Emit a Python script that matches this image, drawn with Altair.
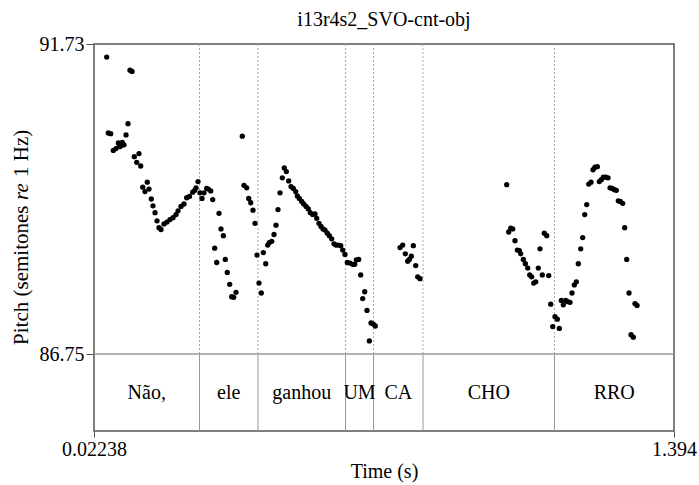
import altair as alt
import pandas as pd

T_START = 0.02238
T_END = 1.394
P_TOP = 91.73
P_BOTTOM = 86.75

# Pitch samples (time in s, pitch in semitones re 1 Hz), grouped by word
nao_t = [0.0524, 0.0562, 0.0619, 0.0680, 0.0744, 0.0799, 0.0822, 0.0855, 0.0893, 0.0933,
         0.0981, 0.1028, 0.1075, 0.1123, 0.1177, 0.1234, 0.1288, 0.1328, 0.1376, 0.1430,
         0.1484, 0.1525, 0.1579, 0.1619, 0.1667, 0.1714, 0.1761, 0.1808, 0.1879, 0.1950,
         0.2021, 0.2092, 0.2163, 0.2211, 0.2281, 0.2352, 0.2416, 0.2482, 0.2558, 0.2605,
         0.2636, 0.2684]
nao_p = [91.52, 90.30, 90.29, 90.02, 90.05, 90.14, 90.08, 90.09, 90.15, 90.11,
         90.27, 90.45, 91.31, 91.29, 89.92, 89.83, 89.97, 89.77, 89.43, 89.36,
         89.51, 89.40, 89.24, 89.13, 89.02, 88.89, 88.78, 88.75, 88.84, 88.87,
         88.91, 88.94, 88.99, 89.05, 89.12, 89.16, 89.26, 89.28, 89.35, 89.38,
         89.42, 89.52]

ele_t = [0.2731, 0.2778, 0.2825, 0.2889, 0.2927, 0.2984, 0.3031, 0.3078, 0.3126, 0.3180,
         0.3227, 0.3282, 0.3329, 0.3376, 0.3433, 0.3480, 0.3528, 0.3582, 0.3731, 0.3771,
         0.3835, 0.3883, 0.3930, 0.3984, 0.4031, 0.4079]
ele_p = [89.34, 89.25, 89.34, 89.41, 89.40, 89.37, 89.23, 88.45, 88.22, 89.01,
         88.76, 88.65, 88.27, 88.06, 87.87, 87.67, 87.66, 87.74, 90.25, 89.46,
         89.42, 89.25, 89.18, 89.06, 88.85, 88.34]

ganhou_t = [0.4126, 0.4180, 0.4228, 0.4285, 0.4332, 0.4370, 0.4426, 0.4481, 0.4528, 0.4575,
            0.4623, 0.4677, 0.4724, 0.4772, 0.4828, 0.4883, 0.4937, 0.4994, 0.5032, 0.5079,
            0.5136, 0.5183, 0.5238, 0.5292, 0.5339, 0.5396, 0.5450, 0.5491, 0.5545, 0.5592,
            0.5640, 0.5687, 0.5741, 0.5789, 0.5845, 0.5900, 0.5947, 0.6002, 0.6058, 0.6105,
            0.6160]
ganhou_p = [87.89, 87.73, 88.38, 88.20, 88.50, 88.54, 88.56, 88.67, 88.82, 89.07,
            89.34, 89.58, 89.74, 89.68, 89.53, 89.44, 89.41, 89.36, 89.29, 89.25,
            89.20, 89.16, 89.12, 89.08, 89.02, 88.99, 89.00, 88.93, 88.85, 88.80,
            88.76, 88.74, 88.69, 88.65, 88.60, 88.52, 88.50, 88.50, 88.49, 88.42,
            88.35]

um_t = [0.6214, 0.6278, 0.6342, 0.6389, 0.6427, 0.6484, 0.6531, 0.6578, 0.6626, 0.6680,
        0.6735, 0.6775, 0.6829, 0.6876]
um_p = [88.22, 88.21, 88.19, 88.19, 88.26, 88.27, 88.02, 87.64, 87.75, 87.45,
        86.96, 87.25, 87.23, 87.20]

ca_t = [0.7461, 0.7524, 0.7586, 0.7643, 0.7681, 0.7728, 0.7775, 0.7832, 0.7879, 0.7934]
ca_p = [88.46, 88.50, 88.36, 88.24, 88.27, 88.32, 88.49, 88.17, 87.99, 87.96]

cho_t = [0.9984, 1.0031, 1.0079, 1.0126, 1.0180, 1.0235, 1.0282, 1.0315, 1.0377, 1.0424,
         1.0481, 1.0528, 1.0575, 1.0622, 1.0670, 1.0731, 1.0771, 1.0826, 1.0873, 1.0930,
         1.0977, 1.1025, 1.1072]
cho_p = [89.47, 88.71, 88.77, 88.76, 88.57, 88.42, 88.41, 88.36, 88.27, 88.20,
         88.13, 88.02, 87.99, 87.89, 87.91, 88.13, 88.44, 88.02, 88.69, 88.65,
         88.01, 87.55, 87.19]

rro_t = [1.1126, 1.1181, 1.1228, 1.1275, 1.1322, 1.1379, 1.1427, 1.1481, 1.1528, 1.1583,
         1.1630, 1.1677, 1.1734, 1.1781, 1.1829, 1.1876, 1.1923, 1.1978, 1.2025, 1.2072,
         1.2127, 1.2174, 1.2221, 1.2269, 1.2325, 1.2380, 1.2427, 1.2481, 1.2529, 1.2576,
         1.2623, 1.2671, 1.2727, 1.2775, 1.2822, 1.2876, 1.2924, 1.2978, 1.3018, 1.3066]
rro_p = [87.35, 87.31, 87.16, 87.61, 87.54, 87.61, 87.59, 87.58, 87.73, 87.86,
         87.91, 88.20, 88.44, 88.62, 88.99, 89.15, 89.48, 89.51, 89.71, 89.75,
         89.76, 89.52, 89.55, 89.59, 89.59, 89.58, 89.42, 89.41, 89.39, 89.38,
         89.21, 89.20, 89.17, 88.78, 88.27, 87.73, 87.06, 87.02, 87.56, 87.53]

# Text tier: word labels and interval boundaries (s)
words = ["Não,", "ele", "ganhou", "UM", "CA", "CHO", "RRO"]
bounds = [0.02238, 0.2719, 0.4102, 0.6172, 0.6834, 0.8005, 1.1114, 1.394]

# ---------------------------------------------------------------------------
FONT = "Liberation Serif"
W, H, PITCH_H = 580, 387, 310
Y_LOW = P_TOP - (P_TOP - P_BOTTOM) * H / PITCH_H   # bottom of the text tier
TIER_MID = (P_BOTTOM + Y_LOW) / 2

frames = []
for tt, pp in [(nao_t, nao_p), (ele_t, ele_p), (ganhou_t, ganhou_p), (um_t, um_p),
               (ca_t, ca_p), (cho_t, cho_p), (rro_t, rro_p)]:
    frames.append(pd.DataFrame({"t": tt, "p": pp}))
pitch_df = pd.concat(frames, ignore_index=True)

tier_df = pd.DataFrame({"word": words, "start": bounds[:-1], "end": bounds[1:]})
bound_df = pd.DataFrame({"b": bounds[1:-1]})
one_df = pd.DataFrame({"a": [0]})

xs = alt.Scale(domain=[T_START, T_END], nice=False, zero=False)
ys = alt.Scale(domain=[Y_LOW, P_TOP], nice=False, zero=False)

xaxis = alt.Axis(values=[T_START, T_END], format=".4r", labelFlush=False, title="Time (s)",
                 grid=False, domain=False, tickSize=6, tickColor="#555", tickWidth=1,
                 labelFont=FONT, labelFontSize=20, labelColor="black", labelPadding=2,
                 titleFont=FONT, titleFontSize=20, titleFontWeight="normal",
                 titleColor="black", titlePadding=2)
yaxis = alt.Axis(values=[P_BOTTOM, P_TOP], format=".4r", labelFlush=False, title=None,
                 grid=False, domain=False, tickSize=8, tickColor="#555", tickWidth=1,
                 labelFont=FONT, labelFontSize=20, labelColor="black", labelPadding=2)

points = alt.Chart(pitch_df).mark_circle(size=28, color="black", opacity=1).encode(
    x=alt.X("t:Q", scale=xs, axis=xaxis),
    y=alt.Y("p:Q", scale=ys, axis=yaxis),
)

separator = alt.Chart(one_df).mark_rule(color="#999", strokeWidth=1.5).encode(
    y=alt.YDatum(P_BOTTOM, scale=ys, axis=yaxis),
)

dotted = alt.Chart(bound_df).mark_rule(color="#aaa", strokeWidth=1, strokeDash=[2, 2]).encode(
    x=alt.X("b:Q", scale=xs, axis=xaxis),
    y=alt.YDatum(P_BOTTOM, scale=ys, axis=yaxis),
    y2=alt.Y2Datum(P_TOP),
)

solid = alt.Chart(bound_df).mark_rule(color="#999", strokeWidth=1).encode(
    x=alt.X("b:Q", scale=xs, axis=xaxis),
    y=alt.YDatum(Y_LOW, scale=ys, axis=yaxis),
    y2=alt.Y2Datum(P_BOTTOM),
)

labels = alt.Chart(tier_df).transform_calculate(
    mid="(datum.start + datum.end) / 2"
).mark_text(font=FONT, fontSize=20, color="black", baseline="middle").encode(
    x=alt.X("mid:Q", scale=xs, axis=xaxis),
    y=alt.YDatum(TIER_MID, scale=ys, axis=yaxis),
    text="word:N",
)

# Y-axis title with italic "re" (three rotated pieces, gaps of one space width)
TITLE_FS = 21
SPACE = 5.5
tx = -72
j1 = 156           # junction between "semitones" and "re"
j2 = j1 - 17.5     # end of "re"
ytitle1 = alt.Chart(one_df).mark_text(text="Pitch (semitones", angle=270, align="right",
                                      baseline="middle", font=FONT, fontSize=TITLE_FS,
                                      color="black").encode(x=alt.value(tx),
                                                            y=alt.value(j1 + SPACE))
ytitle2 = alt.Chart(one_df).mark_text(text="re", angle=270, align="left", baseline="middle",
                                      font=FONT, fontSize=TITLE_FS, fontStyle="italic",
                                      color="black").encode(x=alt.value(tx), y=alt.value(j1))
ytitle3 = alt.Chart(one_df).mark_text(text="1 Hz)", angle=270, align="left",
                                      baseline="middle", font=FONT, fontSize=TITLE_FS,
                                      color="black").encode(x=alt.value(tx),
                                                            y=alt.value(j2 - SPACE))

chart = alt.layer(separator, dotted, solid, labels, points, ytitle1, ytitle2, ytitle3).properties(
    width=W,
    height=H,
    title=alt.TitleParams("i13r4s2_SVO-cnt-obj", font=FONT, fontSize=20, fontWeight="normal",
                          color="black", anchor="middle", offset=4),
    padding={"left": 94, "top": 44, "right": 25, "bottom": 54},
    autosize="none",
).configure_view(stroke="#555", strokeWidth=1.5)

chart.save("out.html", embed_options={"renderer": "svg", "actions": False})
